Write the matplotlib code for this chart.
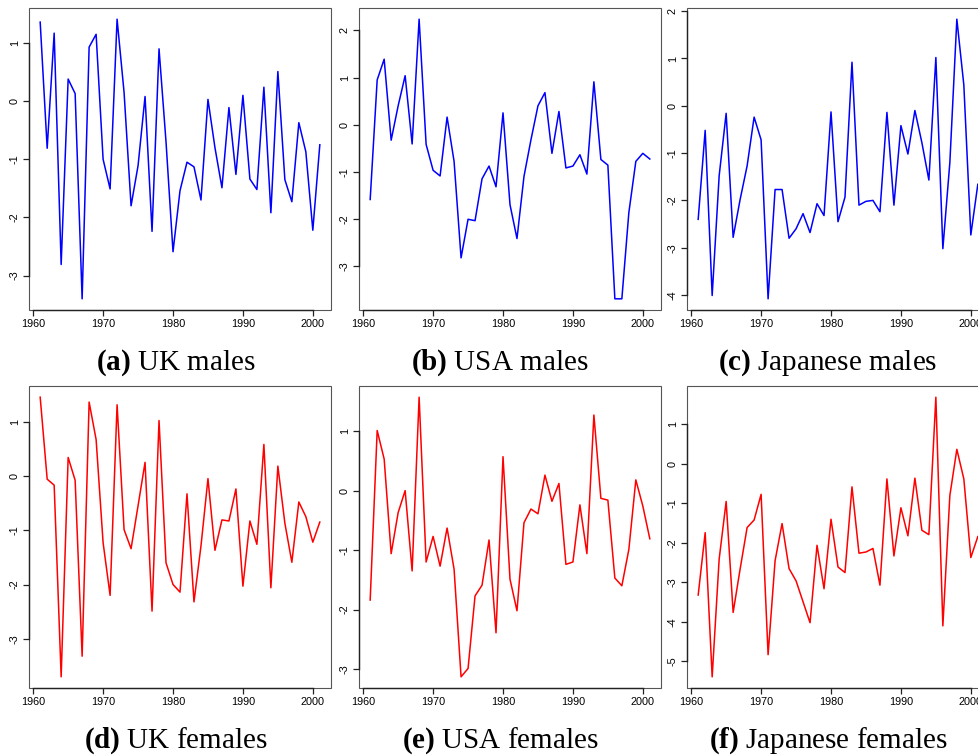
import numpy as np
import matplotlib
matplotlib.use("Agg")
from matplotlib import pyplot as plt
from matplotlib.ticker import MultipleLocator
from matplotlib.patches import Rectangle

# years 1961-2001
years = np.arange(1961, 2002)

uk_males = [1.36, -0.81, 1.17, -2.81, 0.38, 0.13, -3.40, 0.93, 1.15, -1.00,
            -1.51, 1.41, 0.15, -1.80, -1.11, 0.08, -2.24, 0.90, -0.70, -2.59,
            -1.54, -1.05, -1.13, -1.70, 0.03, -0.80, -1.49, -0.11, -1.26, 0.10,
            -1.34, -1.52, 0.24, -1.92, 0.51, -1.35, -1.73, -0.37, -0.87, -2.22,
            -0.75]
usa_males = [-1.59, 0.95, 1.39, -0.33, 0.40, 1.04, -0.41, 2.24, -0.42, -0.97,
             -1.09, 0.16, -0.78, -2.83, -2.01, -2.04, -1.15, -0.88, -1.32, 0.25,
             -1.70, -2.42, -1.10, -0.32, 0.40, 0.68, -0.61, 0.28, -0.92, -0.88,
             -0.64, -1.05, 0.91, -0.74, -0.86, -3.70, -3.70, -1.87, -0.78, -0.61,
             -0.73]
jp_males = [-2.40, -0.52, -4.01, -1.48, -0.16, -2.78, -1.98, -1.27, -0.24, -0.72,
            -4.08, -1.77, -1.77, -2.80, -2.60, -2.28, -2.68, -2.07, -2.32, -0.13,
            -2.45, -1.93, 0.92, -2.10, -2.02, -2.00, -2.24, -0.14, -2.10, -0.42,
            -1.02, -0.10, -0.78, -1.57, 1.02, -3.02, -1.20, 1.83, 0.44, -2.73,
            -1.66]
uk_females = [1.45, -0.06, -0.17, -3.70, 0.34, -0.08, -3.32, 1.36, 0.67, -1.23,
              -2.20, 1.31, -0.99, -1.34, -0.55, 0.25, -2.49, 1.02, -1.60, -2.00,
              -2.14, -0.33, -2.32, -1.29, -0.05, -1.37, -0.81, -0.83, -0.24, -2.03,
              -0.83, -1.26, 0.58, -2.06, 0.18, -0.87, -1.59, -0.48, -0.75, -1.22,
              -0.85]
usa_females = [-1.84, 1.01, 0.53, -1.06, -0.37, 0.00, -1.35, 1.57, -1.20, -0.77,
               -1.27, -0.63, -1.32, -3.13, -2.99, -1.77, -1.59, -0.83, -2.39, 0.57,
               -1.49, -2.02, -0.54, -0.31, -0.39, 0.26, -0.18, 0.12, -1.24, -1.20,
               -0.24, -1.06, 1.27, -0.13, -0.16, -1.47, -1.60, -0.99, 0.18, -0.26,
               -0.81]
jp_females = [-3.32, -1.74, -5.39, -2.41, -0.95, -3.76, -2.66, -1.61, -1.42, -0.77,
              -4.83, -2.45, -1.51, -2.65, -2.96, -3.49, -4.02, -2.06, -3.16, -1.40,
              -2.61, -2.75, -0.58, -2.26, -2.23, -2.14, -3.07, -0.38, -2.33, -1.11,
              -1.82, -0.36, -1.68, -1.79, 1.69, -4.10, -0.80, 0.37, -0.38, -2.37,
              -1.84]

series = [uk_males, usa_males, jp_males, uk_females, usa_females, jp_females]
colors = ["blue", "blue", "blue", "red", "red", "red"]
letters = ["a", "b", "c", "d", "e", "f"]
captions = ["UK males", "USA males", "Japanese males",
            "UK females", "USA females", "Japanese females"]

plt.rcParams["font.family"] = "Liberation Sans"
plt.rcParams["mathtext.fontset"] = "custom"
plt.rcParams["mathtext.rm"] = "Liberation Serif"
plt.rcParams["mathtext.bf"] = "Liberation Serif:bold"

W, H = 979, 755
fig = plt.figure(figsize=(W / 100, H / 100), dpi=100)

# panel boxes in pixels: left, top
lefts = [29, 359, 687]
tops = [8, 386]
pw, ph = 302, 302
cap_x = [176, 500, 828]
cap_base = [370, 748]

for i, y in enumerate(series):
    r, c = divmod(i, 3)
    ax = fig.add_axes([lefts[c] / W, 1 - (tops[r] + ph) / H, pw / W, ph / H])
    ax.plot(years, y, color=colors[i], lw=1.1)
    ax.margins(0.04)
    ax.xaxis.set_major_locator(MultipleLocator(10))
    ax.yaxis.set_major_locator(MultipleLocator(1))
    ax.tick_params(direction="out", length=4, width=0.9, labelsize=7.8,
                   color="#222222", pad=2.5)
    # thin box plus darker axis lines spanning the ticks (R style)
    for s in ["top", "right"]:
        ax.spines[s].set_visible(False)
    ax.add_patch(Rectangle((0, 0), 1, 1, transform=ax.transAxes, fill=False,
                           lw=0.8, ec="#555555", clip_on=False))
    xt = [t for t in ax.get_xticks() if ax.get_xlim()[0] <= t <= ax.get_xlim()[1]]
    yt = [t for t in ax.get_yticks() if ax.get_ylim()[0] <= t <= ax.get_ylim()[1]]
    ax.spines["bottom"].set_bounds(min(xt), max(xt))
    ax.spines["left"].set_bounds(min(yt), max(yt))
    for s in ["bottom", "left"]:
        ax.spines[s].set_linewidth(1.0)
        ax.spines[s].set_color("#222222")
    ax.set_yticklabels(["%d" % t for t in ax.get_yticks()], rotation=90, va="center")

    fig.text(cap_x[c] / W, 1 - cap_base[r] / H,
             r"$\mathbf{(%s)}$ %s" % (letters[i], captions[i]),
             family="Liberation Serif", fontsize=21, ha="center", va="baseline")

fig.savefig("out.png", dpi=100)
